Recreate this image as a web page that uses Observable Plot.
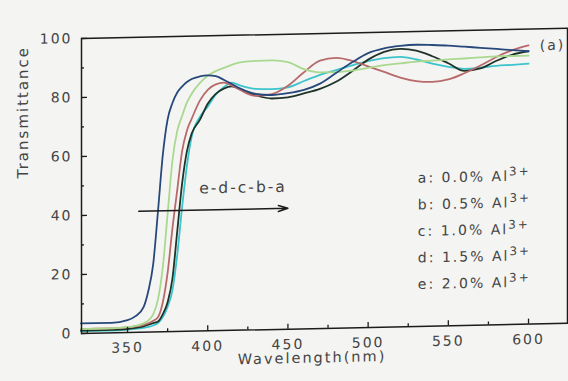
<!DOCTYPE html>
<html>
<head>
<meta charset="utf-8">
<script src="https://cdn.jsdelivr.net/npm/d3@7"></script>
<script src="https://cdn.jsdelivr.net/npm/@observablehq/plot@0.6"></script>
<style>
  html, body { margin: 0; padding: 0; background: #f4f4f2; }
  #chart svg { display: block; transform: skewY(-1.2deg); transform-origin: 81px 333px; }
</style>
</head>
<body>
<div id="chart"></div>
<script>
// Wavelength samples (nm)
const wavelength = [321, 330, 340, 350, 355, 360, 363, 366, 369, 372, 375, 378, 381, 384, 387, 390, 395, 400, 405, 410, 415, 420, 430, 440, 450, 460, 470, 480, 490, 500, 510, 520, 530, 540, 550, 560, 570, 580, 590, 600];

// Transmittance (%) per sample
const seriesA = [0.8, 0.8, 0.8, 1, 1.2, 1.5, 1.8, 2.2, 3, 5, 8.5, 14, 26, 42, 56, 66, 72.5, 76, 80, 82.5, 84, 83, 81.7, 81.5, 82, 84, 86, 87.5, 89, 90.3, 91.2, 91.5, 90.5, 89, 87.8, 87, 87.3, 87.8, 88, 88.3];
const seriesB = [1, 1, 1, 1.2, 1.5, 2, 2.5, 3, 3.5, 6, 10, 18, 34, 50, 61, 67, 71.5, 77, 80.3, 82, 82.7, 81.7, 79.5, 78.3, 78.6, 79.8, 81.2, 83.5, 87, 90.8, 93.3, 94.2, 93.5, 91.5, 89, 86.3, 87, 89.5, 91.5, 92.5];
const seriesC = [1.5, 1.5, 1.5, 1.8, 2, 2.5, 3, 3.8, 5, 10, 20, 35, 48, 61, 68, 72, 78, 81.7, 83.5, 84, 83, 81.5, 79.3, 79.8, 82.5, 87, 90.8, 91.6, 90.5, 88.5, 86.5, 84.5, 83.2, 82.8, 83.5, 85.5, 88, 90.8, 93, 94.5];
const seriesD = [1.5, 1.5, 1.5, 1.8, 2.2, 3, 4, 6, 11, 22, 40, 58, 68, 73, 77.5, 80.5, 84, 86.5, 88, 89, 90, 90.8, 91.2, 91.2, 90.5, 88, 86.8, 86.8, 87.2, 88, 88.8, 89.3, 89.8, 90, 90.3, 90.5, 90.8, 91, 91, 91];
const seriesE = [3.4, 3.4, 3.4, 4.2, 5.5, 8.5, 14, 23, 41, 60, 72, 77.5, 81, 83, 84.5, 85.5, 86.3, 86.6, 86.3, 85, 83.5, 82, 80, 79.5, 80, 81, 83, 86.5, 90, 93, 94.5, 95.2, 95.5, 95.3, 95, 94.5, 94, 93.5, 93, 92.5];

const seriesKeys = ["a", "b", "c", "d", "e"];
const seriesValues = [seriesA, seriesB, seriesC, seriesD, seriesE];
const seriesColors = ["#3cc4cc", "#1f3329", "#b86a6a", "#a9d98f", "#27487a"];

const legendLabels = ["a: 0.0% Al", "b: 0.5% Al", "c: 1.0% Al", "d: 1.5% Al", "e: 2.0% Al"];
const legendSup = "3+";

const xTicks = [350, 400, 450, 500, 550, 600];
const xMinor = [325, 375, 425, 475, 525, 575];
const yTicks = [0, 20, 40, 60, 80, 100];
const yMinor = [10, 30, 50, 70, 90];

// annotation anchors (data units)
const arrowFrom = 357, arrowTo = 450, arrowY = 41;
const orderLabel = "e-d-c-b-a", orderX = 422, orderY = 48.3;
const panelLabel = "(a)", panelX = 607, panelY = 94.3;
const legendX = 531, legendTop = 50.2, legendStep = 9;

const rows = [];
seriesValues.forEach((vals, s) => {
  vals.forEach((v, i) => rows.push({key: seriesKeys[s], x: wavelength[i], y: v}));
});

const ink = "#1c1c1c";
const textInk = "#444";

const svg = Plot.plot({
  width: 568,
  height: 381,
  marginLeft: 81,
  marginRight: 1,
  marginTop: 38,
  marginBottom: 48,
  style: {fontFamily: "DejaVu Sans", fontSize: "14px", letterSpacing: "2px", color: textInk, background: "#f4f4f2"},
  x: {domain: [321.3, 624.3]},
  y: {domain: [0, 100]},
  color: {domain: seriesKeys, range: seriesColors},
  marks: [
    Plot.line(rows, {x: "x", y: "y", z: "key", stroke: "key", strokeWidth: 1.8, curve: "monotone-x"}),
    Plot.frame({stroke: ink, strokeWidth: 1.5}),
    Plot.tickY(yTicks, {y: d => d, insetRight: 480, stroke: ink, strokeWidth: 1.3}),
    Plot.tickY(yMinor, {y: d => d, insetRight: 483, stroke: ink, strokeWidth: 1.3}),
    Plot.tickX(xTicks, {x: d => d, insetTop: 290, stroke: ink, strokeWidth: 1.3}),
    Plot.tickX(xMinor, {x: d => d, insetTop: 292, stroke: ink, strokeWidth: 1.3}),
    Plot.axisX({ticks: xTicks, tickSize: 0, tickPadding: 10, label: null, fill: textInk}),
    Plot.axisY({ticks: yTicks, tickSize: 0, tickPadding: 9, label: null, fill: textInk}),
    Plot.text(["Wavelength(nm)"], {x: () => 465, frameAnchor: "bottom", dy: 34, fontSize: 14.5, fill: textInk}),
    Plot.text(["Transmittance"], {y: () => 53, frameAnchor: "left", dx: -58, rotate: -90, fontSize: 15, fill: textInk}),
    Plot.arrow([0], {x1: () => arrowFrom, x2: () => arrowTo, y1: () => arrowY, y2: () => arrowY, stroke: ink, strokeWidth: 1.5, headLength: 10, headAngle: 35}),
    Plot.text([orderLabel], {x: () => orderX, y: () => orderY, fontSize: 15.5, fill: textInk}),
    Plot.text([panelLabel], {x: () => panelX, y: () => panelY, textAnchor: "start", fontSize: 14, fill: textInk}),
    Plot.text(legendLabels, {x: () => legendX, y: (d, i) => legendTop - legendStep * i, text: d => d, textAnchor: "start", fontSize: 14, fill: textInk})
  ]
});

d3.select(svg).selectAll("text").each(function () {
  if (legendLabels.includes(this.textContent)) {
    d3.select(this).append("tspan").attr("dy", "-0.45em").attr("font-size", "0.85em").text(legendSup);
  }
});

document.getElementById("chart").appendChild(svg);
</script>
</body>
</html>
